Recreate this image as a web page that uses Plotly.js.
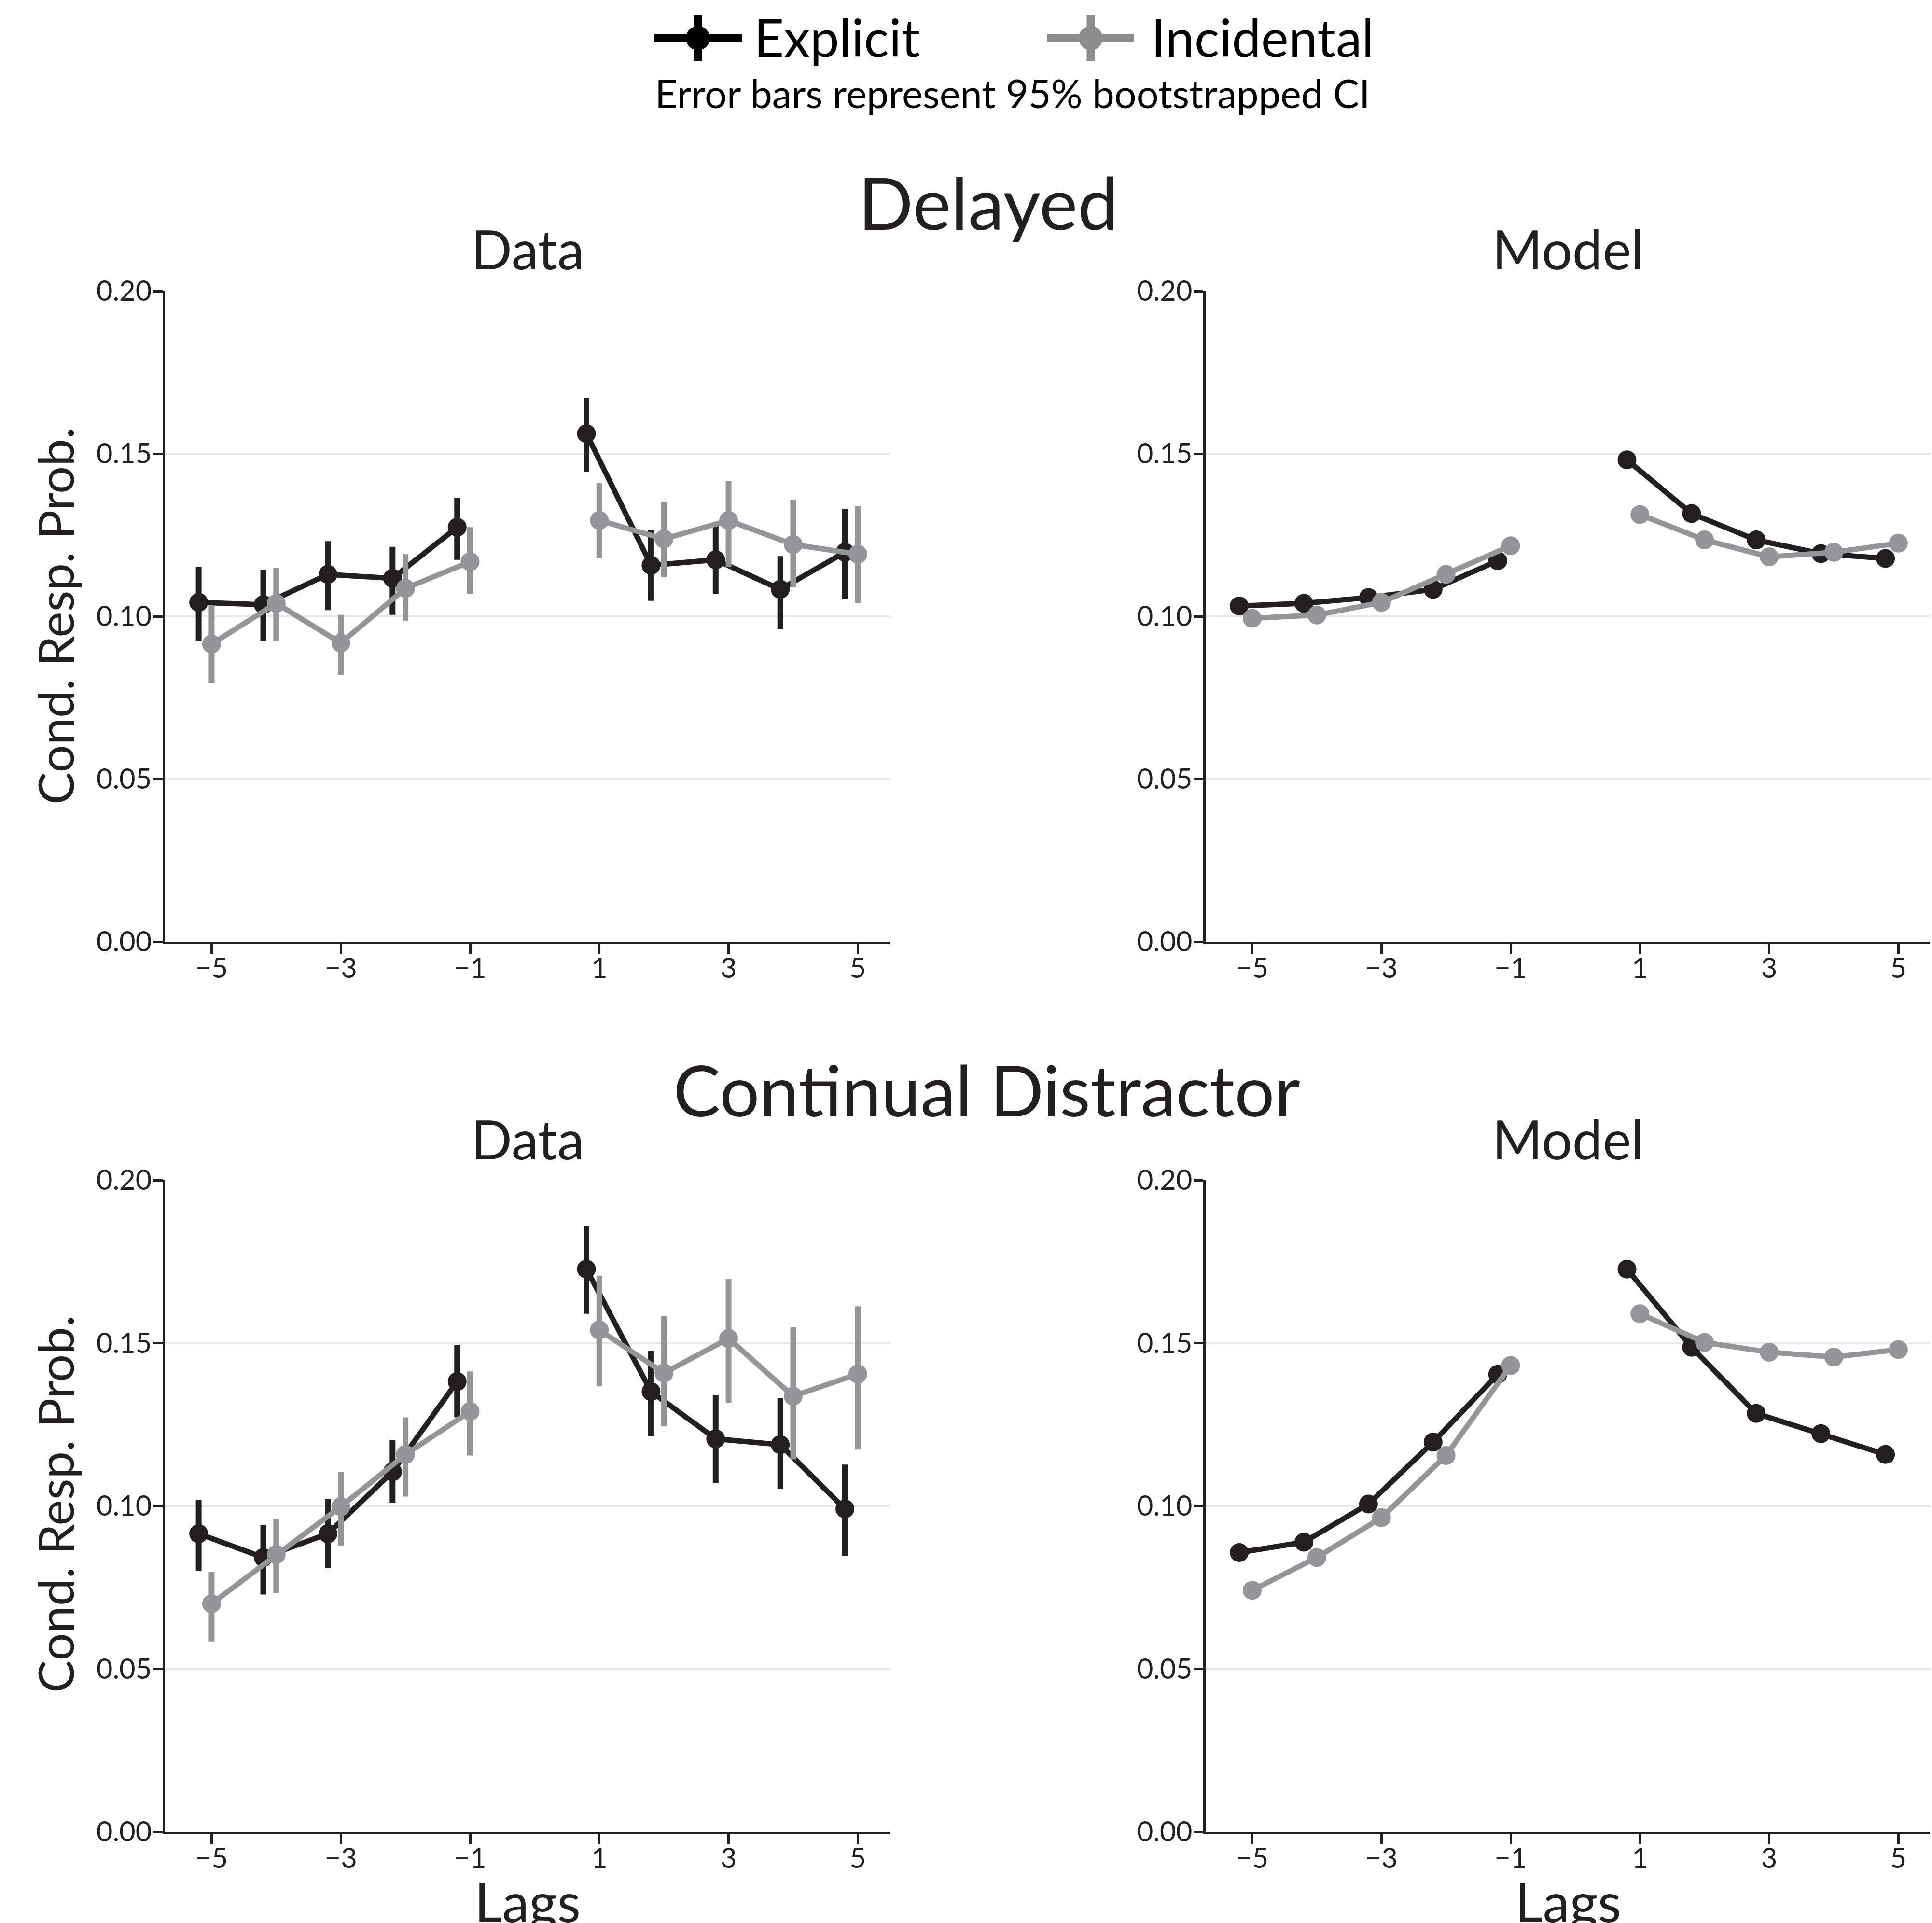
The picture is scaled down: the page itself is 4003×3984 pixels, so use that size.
<!DOCTYPE html>
<html>
<head>
<meta charset="utf-8">
<script src="https://cdn.plot.ly/plotly-3.0.1.min.js"></script>
<style>
html,body{margin:0;padding:0;background:#fff;}
#chart{width:4003px;height:3984px;}
</style>
</head>
<body>
<div id="chart"></div>
<script>
// ---------- DATA ----------
const lags = [-5, -4, -3, -2, -1, 1, 2, 3, 4, 5];
const xTickVals = [-5, -3, -1, 1, 3, 5];
const xTickText = ['\u22125', '\u22123', '\u22121', '1', '3', '5'];
const yTickVals = [0, 0.05, 0.10, 0.15, 0.20];
const yTickText = ['0.00', '0.05', '0.10', '0.15', '0.20'];
const seriesNames = ['Explicit', 'Incidental'];
const rowTitles = ['Delayed', 'Continual Distractor'];
const colTitles = ['Data', 'Model'];

// Delayed — Data
const delayedDataExplicit   = [0.1043, 0.1036, 0.1129, 0.1117, 0.1274, 0.1562, 0.1157, 0.1174, 0.1083, 0.1197];
const delayedDataExplicitLo = [0.0923, 0.0923, 0.1019, 0.1005, 0.1174, 0.1444, 0.1048, 0.1069, 0.0961, 0.1053];
const delayedDataExplicitHi = [0.1153, 0.1143, 0.1231, 0.1214, 0.1365, 0.1672, 0.1267, 0.1278, 0.1185, 0.1330];
const delayedDataIncidental   = [0.0915, 0.1040, 0.0918, 0.1086, 0.1168, 0.1295, 0.1238, 0.1295, 0.1221, 0.1191];
const delayedDataIncidentalLo = [0.0795, 0.0925, 0.0819, 0.0986, 0.1069, 0.1178, 0.1120, 0.1153, 0.1089, 0.1041];
const delayedDataIncidentalHi = [0.1032, 0.1150, 0.1005, 0.1191, 0.1274, 0.1410, 0.1353, 0.1417, 0.1359, 0.1339];

// Delayed — Model
const delayedModelExplicit   = [0.1032, 0.1040, 0.1058, 0.1083, 0.1171, 0.1481, 0.1316, 0.1235, 0.1193, 0.1178];
const delayedModelIncidental = [0.0994, 0.1004, 0.1043, 0.1129, 0.1217, 0.1313, 0.1235, 0.1183, 0.1197, 0.1225];

// Continual Distractor — Data
const contDataExplicit   = [0.0915, 0.0842, 0.0915, 0.1105, 0.1382, 0.1727, 0.1351, 0.1206, 0.1188, 0.0991];
const contDataExplicitLo = [0.0801, 0.0728, 0.0809, 0.1009, 0.1272, 0.1590, 0.1214, 0.1070, 0.1052, 0.0847];
const contDataExplicitHi = [0.1018, 0.0942, 0.1021, 0.1203, 0.1495, 0.1859, 0.1476, 0.1340, 0.1332, 0.1127];
const contDataIncidental   = [0.0700, 0.0851, 0.0998, 0.1158, 0.1290, 0.1540, 0.1408, 0.1514, 0.1337, 0.1405];
const contDataIncidentalLo = [0.0584, 0.0733, 0.0877, 0.1029, 0.1155, 0.1367, 0.1244, 0.1317, 0.1143, 0.1173];
const contDataIncidentalHi = [0.0798, 0.0961, 0.1105, 0.1272, 0.1413, 0.1707, 0.1583, 0.1697, 0.1548, 0.1613];

// Continual Distractor — Model
const contModelExplicit   = [0.0857, 0.0889, 0.1006, 0.1196, 0.1404, 0.1727, 0.1487, 0.1284, 0.1222, 0.1158];
const contModelIncidental = [0.0741, 0.0842, 0.0964, 0.1155, 0.1431, 0.1590, 0.1502, 0.1472, 0.1457, 0.1480];

// ---------- STYLE ----------
const W = 4003, H = 3984;
const FONT = 'Lato, "Open Sans", sans-serif';
const INK = '#231f20';
const BLACK = '#231f20';
const GREY = '#939598';
const DODGE = [-0.2, 0];   // explicit shifted left, incidental on the tick
const px = v => v / W;
const py = v => 1 - v / H;

// break the line between lag -1 and lag 1
function gapped(arr, shift) {
  const out = [];
  lags.forEach((l, i) => {
    if (l === 1) out.push(null);
    out.push(shift === undefined ? arr[i] : l + shift);
  });
  return out;
}

function trace(vals, lo, hi, sIdx, axIdx) {
  const color = sIdx === 0 ? BLACK : GREY;
  const t = {
    type: 'scatter', mode: 'lines+markers', name: seriesNames[sIdx],
    x: gapped(lags, DODGE[sIdx]), y: gapped(vals),
    xaxis: 'x' + (axIdx === 1 ? '' : axIdx), yaxis: 'y' + (axIdx === 1 ? '' : axIdx),
    line: {color: color, width: 11},
    marker: {color: color, size: 39, line: {width: 0}},
    connectgaps: false, showlegend: false, hoverinfo: 'skip', cliponaxis: false
  };
  if (lo && hi) {
    const plus = hi.map((h, i) => h - vals[i]);
    const minus = lo.map((l, i) => vals[i] - l);
    t.error_y = {type: 'data', symmetric: false, array: gapped(plus), arrayminus: gapped(minus),
                 color: color, thickness: 12, width: 0};
  }
  return t;
}

const data = [
  trace(delayedDataExplicit, delayedDataExplicitLo, delayedDataExplicitHi, 0, 1),
  trace(delayedDataIncidental, delayedDataIncidentalLo, delayedDataIncidentalHi, 1, 1),
  trace(delayedModelExplicit, null, null, 0, 2),
  trace(delayedModelIncidental, null, null, 1, 2),
  trace(contDataExplicit, contDataExplicitLo, contDataExplicitHi, 0, 3),
  trace(contDataIncidental, contDataIncidentalLo, contDataIncidentalHi, 1, 3),
  trace(contModelExplicit, null, null, 0, 4),
  trace(contModelIncidental, null, null, 1, 4)
];

const xDomL = [px(342), px(1843)], xDomR = [px(2498), px(3999)];
const yDomT = [py(1951), py(603)], yDomB = [py(3795), py(2445)];

function xax(dom, anchor) {
  return {domain: dom, anchor: anchor, range: [-5.72, 5.49],
    tickmode: 'array', tickvals: xTickVals, ticktext: xTickText,
    showgrid: false, zeroline: false, showline: true, linecolor: INK, linewidth: 5,
    ticks: 'outside', ticklen: 20, tickwidth: 5, tickcolor: INK, ticklabelstandoff: -20,
    tickfont: {family: FONT, size: 58, color: INK}, automargin: false, fixedrange: true};
}
function yax(dom, anchor) {
  return {domain: dom, anchor: anchor, range: [0, 0.2],
    tickmode: 'array', tickvals: yTickVals, ticktext: yTickText,
    showgrid: true, gridcolor: '#e6e6e6', gridwidth: 4, zeroline: false,
    showline: true, linecolor: INK, linewidth: 5,
    ticks: 'outside', ticklen: 20, tickwidth: 5, tickcolor: INK, ticklabelstandoff: -9,
    tickfont: {family: FONT, size: 58, color: INK}, automargin: false, fixedrange: true};
}

function ann(text, x, y, size, extra) {
  return Object.assign({text: text, xref: 'paper', yref: 'paper', x: px(x), y: py(y),
    xanchor: 'center', yanchor: 'middle', showarrow: false,
    font: {family: FONT, size: size, color: INK}}, extra || {});
}

const annotations = [
  ann(rowTitles[0], 2047, 418, 150),
  ann(rowTitles[1], 2045, 2256, 146),
  ann(colTitles[0], 1093, 515, 112),
  ann(colTitles[1], 3249, 515, 112),
  ann(colTitles[0], 1093, 2358, 112),
  ann(colTitles[1], 3249, 2358, 112),
  ann('Cond. Resp. Prob.', 114, 1276, 101, {textangle: -90}),
  ann('Cond. Resp. Prob.', 114, 3116, 101, {textangle: -90}),
  ann('Lags', 1093, 3938, 112),
  ann('Lags', 3249, 3938, 112),
  ann(seriesNames[0], 1560, 76, 108, {xanchor: 'left', font: {family: FONT, size: 108, color: '#000'}}),
  ann(seriesNames[1], 2383, 76, 108, {xanchor: 'left', font: {family: FONT, size: 108, color: '#000'}}),
  ann('Error bars represent 95% bootstrapped CI', 2098, 192, 81, {font: {family: FONT, size: 81, color: '#000'}})
];

// legend handles (decoration)
function handle(cx, color, x0, x1) {
  const cy = 79, r = 25;
  return [
    {type: 'line', xref: 'paper', yref: 'paper', x0: px(x0), x1: px(x1), y0: py(cy), y1: py(cy), line: {color: color, width: 17}},
    {type: 'line', xref: 'paper', yref: 'paper', x0: px(cx), x1: px(cx), y0: py(cy - 47), y1: py(cy + 47), line: {color: color, width: 17}},
    {type: 'circle', xref: 'paper', yref: 'paper', x0: px(cx - r), x1: px(cx + r), y0: py(cy + r), y1: py(cy - r), fillcolor: color, line: {width: 0}}
  ];
}
const shapes = [].concat(handle(1446, '#000', 1356, 1537), handle(2260, '#8c8c8c', 2170, 2349));

const layout = {
  width: W, height: H, margin: {l: 0, r: 0, t: 0, b: 0},
  paper_bgcolor: '#fff', plot_bgcolor: '#fff', showlegend: false,
  font: {family: FONT, color: INK},
  xaxis: xax(xDomL, 'y'), yaxis: yax(yDomT, 'x'),
  xaxis2: xax(xDomR, 'y2'), yaxis2: yax(yDomT, 'x2'),
  xaxis3: xax(xDomL, 'y3'), yaxis3: yax(yDomB, 'x3'),
  xaxis4: xax(xDomR, 'y4'), yaxis4: yax(yDomB, 'x4'),
  annotations: annotations, shapes: shapes
};

Plotly.newPlot('chart', data, layout, {staticPlot: true, displayModeBar: false});
</script>
</body>
</html>
